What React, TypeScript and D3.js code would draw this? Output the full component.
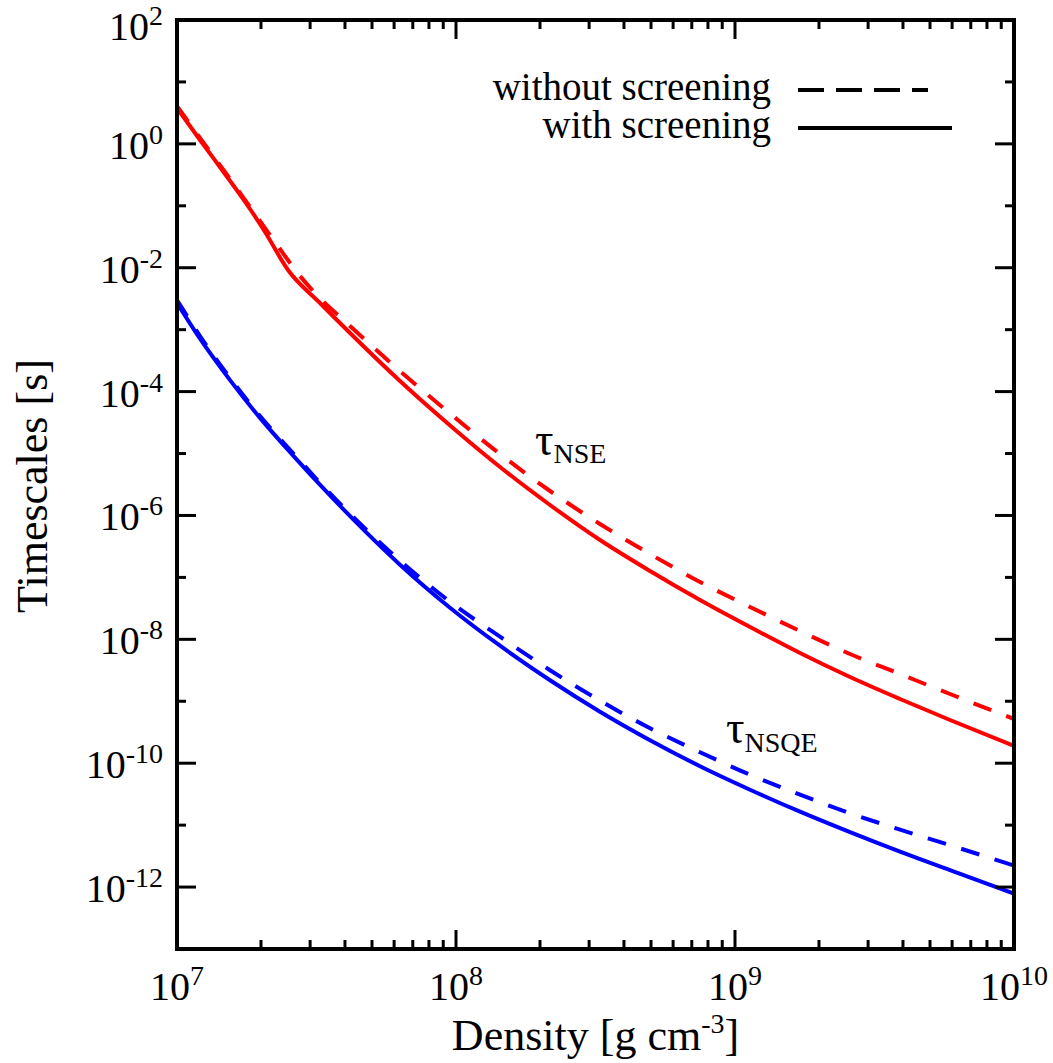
import { useEffect, useRef } from "react";
import * as d3 from "d3";

// Red: tau_NSE, with screening (solid)
const nseScreenDensity = [1e7, 1.209e7, 1.486e7, 1.827e7, 2.068e7, 2.5e7, 3.255e7, 4.17e7, 6.299e7, 9.755e7, 1.438e8, 2.173e8, 3.282e8, 4.959e8, 7.491e8, 1.132e9, 1.71e9, 2.584e9, 3.903e9, 5.896e9, 1e10];
const nseScreenTime = [3.795, 1.154, 0.3262, 0.0888, 0.03774, 9.19e-3, 2.695e-3, 8.83e-4, 1.483e-4, 2.585e-5, 6.06e-6, 1.476e-6, 4.017e-7, 1.269e-7, 4.315e-8, 1.581e-8, 6.015e-9, 2.464e-9, 1.088e-9, 4.98e-10, 1.895e-10];

// Red: tau_NSE, without screening (dashed)
const nseNoScreenDensity = [1e7, 1.209e7, 1.486e7, 1.827e7, 2.245e7, 2.76e7, 3.123e7, 4.17e7, 6.299e7, 9.755e7, 1.438e8, 2.173e8, 3.282e8, 4.959e8, 7.491e8, 1.132e9, 1.71e9, 2.584e9, 3.903e9, 5.896e9, 1e10];
const nseNoScreenTime = [4.088, 1.244, 0.3513, 0.09563, 0.02603, 7.35e-3, 3.908e-3, 1.146e-3, 2.151e-4, 4.036e-5, 9.83e-6, 2.483e-6, 7.28e-7, 2.386e-7, 8.43e-8, 3.327e-8, 1.363e-8, 5.795e-9, 2.755e-9, 1.31e-9, 5.17e-10];

// Blue: tau_NSQE, with screening (solid)
const nsqeScreenDensity = [1e7, 1.209e7, 1.549e7, 1.984e7, 2.584e7, 3.535e7, 4.719e7, 6.299e7, 9.517e7, 1.438e8, 2.173e8, 3.282e8, 4.959e8, 7.491e8, 1.132e9, 1.71e9, 2.584e9, 3.903e9, 5.896e9, 1e10];
const nsqeScreenTime = [2.695e-3, 7.146e-4, 1.533e-4, 3.761e-5, 9.68e-6, 2.109e-6, 5.59e-7, 1.603e-7, 3.241e-8, 7.886e-9, 2.188e-9, 6.785e-10, 2.35e-10, 8.94e-11, 3.733e-11, 1.647e-11, 7.69e-12, 3.723e-12, 1.872e-12, 7.84e-13];

// Blue: tau_NSQE, without screening (dashed)
const nsqeNoScreenDensity = [1e7, 1.209e7, 1.549e7, 1.984e7, 2.584e7, 3.535e7, 4.719e7, 6.299e7, 9.517e7, 1.438e8, 2.173e8, 3.282e8, 4.959e8, 7.491e8, 1.132e9, 1.71e9, 2.584e9, 3.903e9, 5.896e9, 1e10];
const nsqeNoScreenTime = [3.013e-3, 7.9e-4, 1.658e-4, 4.036e-5, 1.058e-5, 2.272e-6, 6.159e-7, 1.861e-7, 4.051e-8, 1.103e-8, 3.173e-9, 1.021e-9, 3.674e-10, 1.505e-10, 6.52e-11, 3.1e-11, 1.558e-11, 8.44e-12, 4.743e-12, 2.221e-12];

// Axis ticks (exponents of ten)
const xMajorExp = [7, 8, 9, 10];
const xMinorMult = [2, 3, 4, 5, 6, 7, 8, 9];
const yMajorExp = [2, 0, -2, -4, -6, -8, -10, -12];
const yMinorExp = [1, -1, -3, -5, -7, -9, -11];

const legendLabels = ["without screening", "with screening"];

const FONT = "'Liberation Serif', 'Times New Roman', serif";

const App = () => {
  const svgRef = useRef<SVGSVGElement | null>(null);

  useEffect(() => {
    if (!svgRef.current) return;
    const svg = d3.select(svgRef.current);
    svg.selectAll("*").remove();

    const left = 177;
    const right = 1014;
    const top = 20;
    const bottom = 949;

    const x = d3.scaleLog().domain([1e7, 1e10]).range([left, right]);
    const y = d3.scaleLog().domain([1e-13, 1e2]).range([bottom, top]);

    svg
      .append("defs")
      .append("clipPath")
      .attr("id", "plotClip")
      .append("rect")
      .attr("x", left)
      .attr("y", top)
      .attr("width", right - left)
      .attr("height", bottom - top);

    // curves
    const line = d3
      .line<[number, number]>()
      .x((d) => x(d[0]))
      .y((d) => y(d[1]))
      .curve(d3.curveMonotoneX);

    const series = [
      { xs: nseNoScreenDensity, ys: nseNoScreenTime, color: "#ff0000", dash: "19 16" },
      { xs: nseScreenDensity, ys: nseScreenTime, color: "#ff0000", dash: null },
      { xs: nsqeNoScreenDensity, ys: nsqeNoScreenTime, color: "#0000ff", dash: "19 16" },
      { xs: nsqeScreenDensity, ys: nsqeScreenTime, color: "#0000ff", dash: null },
    ];

    const curves = svg.append("g").attr("clip-path", "url(#plotClip)");
    series.forEach((s) => {
      const pts = s.xs.map((v, i) => [v, s.ys[i]] as [number, number]);
      curves
        .append("path")
        .attr("d", line(pts))
        .attr("fill", "none")
        .attr("stroke", s.color)
        .attr("stroke-width", 4)
        .attr("stroke-dasharray", s.dash);
    });

    // frame
    const axes = svg.append("g").attr("stroke", "#000").attr("stroke-width", 4);
    axes
      .append("rect")
      .attr("x", left)
      .attr("y", top)
      .attr("width", right - left)
      .attr("height", bottom - top)
      .attr("fill", "none");

    const majorLen = 19;
    const minorLen = 9;

    // x ticks, bottom and top
    const xMinor: number[] = [];
    xMajorExp.slice(0, -1).forEach((e) => {
      xMinorMult.forEach((m) => xMinor.push(m * Math.pow(10, e)));
    });
    const xTicks = [
      ...xMajorExp.map((e) => ({ v: Math.pow(10, e), len: majorLen })),
      ...xMinor.map((v) => ({ v, len: minorLen })),
    ];
    xTicks.forEach((t) => {
      const px = x(t.v);
      axes.append("line").attr("x1", px).attr("x2", px).attr("y1", bottom).attr("y2", bottom - t.len).attr("stroke-width", 3);
      axes.append("line").attr("x1", px).attr("x2", px).attr("y1", top).attr("y2", top + t.len).attr("stroke-width", 3);
    });

    // y ticks, left and right
    const yTicks = [
      ...yMajorExp.map((e) => ({ v: Math.pow(10, e), len: majorLen })),
      ...yMinorExp.map((e) => ({ v: Math.pow(10, e), len: minorLen })),
    ];
    yTicks.forEach((t) => {
      const py = y(t.v);
      axes.append("line").attr("x1", left).attr("x2", left + t.len).attr("y1", py).attr("y2", py).attr("stroke-width", 3);
      axes.append("line").attr("x1", right).attr("x2", right - t.len).attr("y1", py).attr("y2", py).attr("stroke-width", 3);
    });

    const labels = svg.append("g").attr("font-family", FONT).attr("fill", "#000");

    // x tick labels
    xMajorExp.forEach((e) => {
      const t = labels
        .append("text")
        .attr("x", x(Math.pow(10, e)))
        .attr("y", 1000)
        .attr("text-anchor", "middle")
        .attr("font-size", 40);
      t.append("tspan").text("10");
      t.append("tspan").attr("font-size", 28).attr("dy", -15).text(String(e));
    });

    // y tick labels
    yMajorExp.forEach((e) => {
      const t = labels
        .append("text")
        .attr("x", 163)
        .attr("y", Math.max(y(Math.pow(10, e)) + 15, 40))
        .attr("text-anchor", "end")
        .attr("font-size", 40);
      t.append("tspan").text("10");
      t.append("tspan").attr("font-size", 28).attr("dy", -15).text(String(e));
    });

    // axis titles
    const xt = labels
      .append("text")
      .attr("x", (left + right) / 2)
      .attr("y", 1050)
      .attr("text-anchor", "middle")
      .attr("font-size", 44);
    xt.append("tspan").text("Density [g cm");
    xt.append("tspan").attr("font-size", 28).attr("dy", -17).text("-3");
    xt.append("tspan").attr("dy", 17).text("]");

    labels
      .append("text")
      .attr("transform", `translate(47,486) rotate(-90)`)
      .attr("text-anchor", "middle")
      .attr("font-size", 44)
      .text("Timescales [s]");

    // curve labels
    const tauNse = labels.append("text").attr("x", 535).attr("y", 455).attr("font-size", 46);
    tauNse.append("tspan").text("τ");
    tauNse.append("tspan").attr("font-size", 28).attr("dy", 8).text("NSE");

    const tauNsqe = labels.append("text").attr("x", 726).attr("y", 743).attr("font-size", 46);
    tauNsqe.append("tspan").text("τ");
    tauNsqe.append("tspan").attr("font-size", 28).attr("dy", 9).text("NSQE");

    // legend
    const legendY = [100, 138];
    legendLabels.forEach((lab, i) => {
      labels
        .append("text")
        .attr("x", 771)
        .attr("y", legendY[i])
        .attr("text-anchor", "end")
        .attr("font-size", 39)
        .text(lab);
    });
    svg
      .append("line")
      .attr("x1", 798)
      .attr("x2", 928)
      .attr("y1", 90)
      .attr("y2", 90)
      .attr("stroke", "#000")
      .attr("stroke-width", 4)
      .attr("stroke-dasharray", "26 12");
    svg
      .append("line")
      .attr("x1", 798)
      .attr("x2", 952)
      .attr("y1", 128)
      .attr("y2", 128)
      .attr("stroke", "#000")
      .attr("stroke-width", 4);
  }, []);

  return (
    <svg
      ref={svgRef}
      width={1053}
      height={1063}
      style={{ position: "absolute", left: 0, top: 0, background: "#fff" }}
    ></svg>
  );
};

export default App;
